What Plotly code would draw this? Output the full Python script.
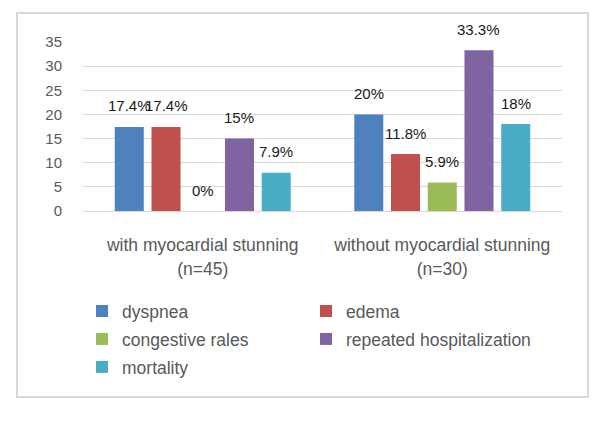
import plotly.graph_objects as go

categories = ["with myocardial stunning", "without myocardial stunning"]
category_sub = ["(n=45)", "(n=30)"]
series_names = ["dyspnea", "edema", "congestive rales", "repeated hospitalization", "mortality"]
series_values = [
    [17.4, 20],
    [17.4, 11.8],
    [0, 5.9],
    [15, 33.3],
    [7.9, 18],
]
series_labels = [
    ["17.4%", "20%"],
    ["17.4%", "11.8%"],
    ["0%", "5.9%"],
    ["15%", "33.3%"],
    ["7.9%", "18%"],
]
colors = ["#4F81BD", "#C0504D", "#9BBB59", "#8064A2", "#4BACC6"]
y_ticks = [0, 5, 10, 15, 20, 25, 30, 35]

FONT = "Liberation Sans, Arial, sans-serif"
BARGAP = 0.233
BARGROUPGAP = 0.21
OFF = 8  # page body margin

def span(t, size):
    return "<span style='font-size:%spx'>%s</span>" % (size, t)

fig = go.Figure()
for name, vals, col in zip(series_names, series_values, colors):
    fig.add_trace(go.Bar(x=categories, y=vals, name=span(name, 17.5), marker_color=col,
                         marker_line_width=0, hoverinfo="skip"))

n = len(series_names)
slot = (1 - BARGAP) / n
annotations = []
for j, (vals, labs) in enumerate(zip(series_values, series_labels)):
    for i, (v, lab) in enumerate(zip(vals, labs)):
        annotations.append(dict(
            x=i + (j - (n - 1) / 2) * slot, y=v, xref="x", yref="y",
            text=lab, showarrow=False, yanchor="middle", yshift=21,
            font=dict(family=FONT, size=15, color="#1a1a1a")))

W, H = 606, 421
L, R, T, B = 83 - OFF, W - (562 - OFF), 42 - OFF, H - (211 - OFF)
pw, ph = W - L - R, H - T - B

def px_x(p):
    return (p - OFF - L) / pw

def px_y(p):
    return (H - B - (p - OFF)) / ph

ticktext = [span(c, 17.5) + "<br>" + span(s, 17.5) for c, s in zip(categories, category_sub)]

fig.update_layout(
    width=W, height=H,
    margin=dict(l=L, r=R, t=T, b=B),
    paper_bgcolor="white", plot_bgcolor="white",
    barmode="group", bargap=BARGAP, bargroupgap=BARGROUPGAP,
    font=dict(family=FONT, size=15, color="#595959"),
    showlegend=True,
    legend=dict(orientation="h", x=px_x(82), xanchor="left", y=px_y(292), yanchor="top",
                entrywidth=179, entrywidthmode="pixels",
                font=dict(family=FONT, size=19.2, color="#595959"),
                itemwidth=30, bgcolor="rgba(0,0,0,0)"),
    annotations=annotations,
    shapes=[dict(type="rect", xref="paper", yref="paper",
                 x0=px_x(17), x1=px_x(588), y0=px_y(397), y1=px_y(13),
                 line=dict(color="#D9D9D9", width=2), fillcolor="rgba(0,0,0,0)",
                 layer="below")],
)
fig.update_xaxes(type="category", tickvals=categories, ticktext=ticktext,
                 showgrid=False, showline=True, linecolor="#D9D9D9",
                 linewidth=1, ticks="", ticklabelstandoff=17,
                 tickfont=dict(family=FONT, size=18.5, color="#595959"),
                 fixedrange=True)
fig.update_yaxes(range=[0, 35], tickvals=y_ticks, showgrid=True, gridcolor="#D9D9D9",
                 gridwidth=1, zeroline=False, showline=False, ticks="",
                 ticklabelstandoff=20,
                 tickfont=dict(family=FONT, size=15, color="#595959"), fixedrange=True)

fig.write_html("out.html")
